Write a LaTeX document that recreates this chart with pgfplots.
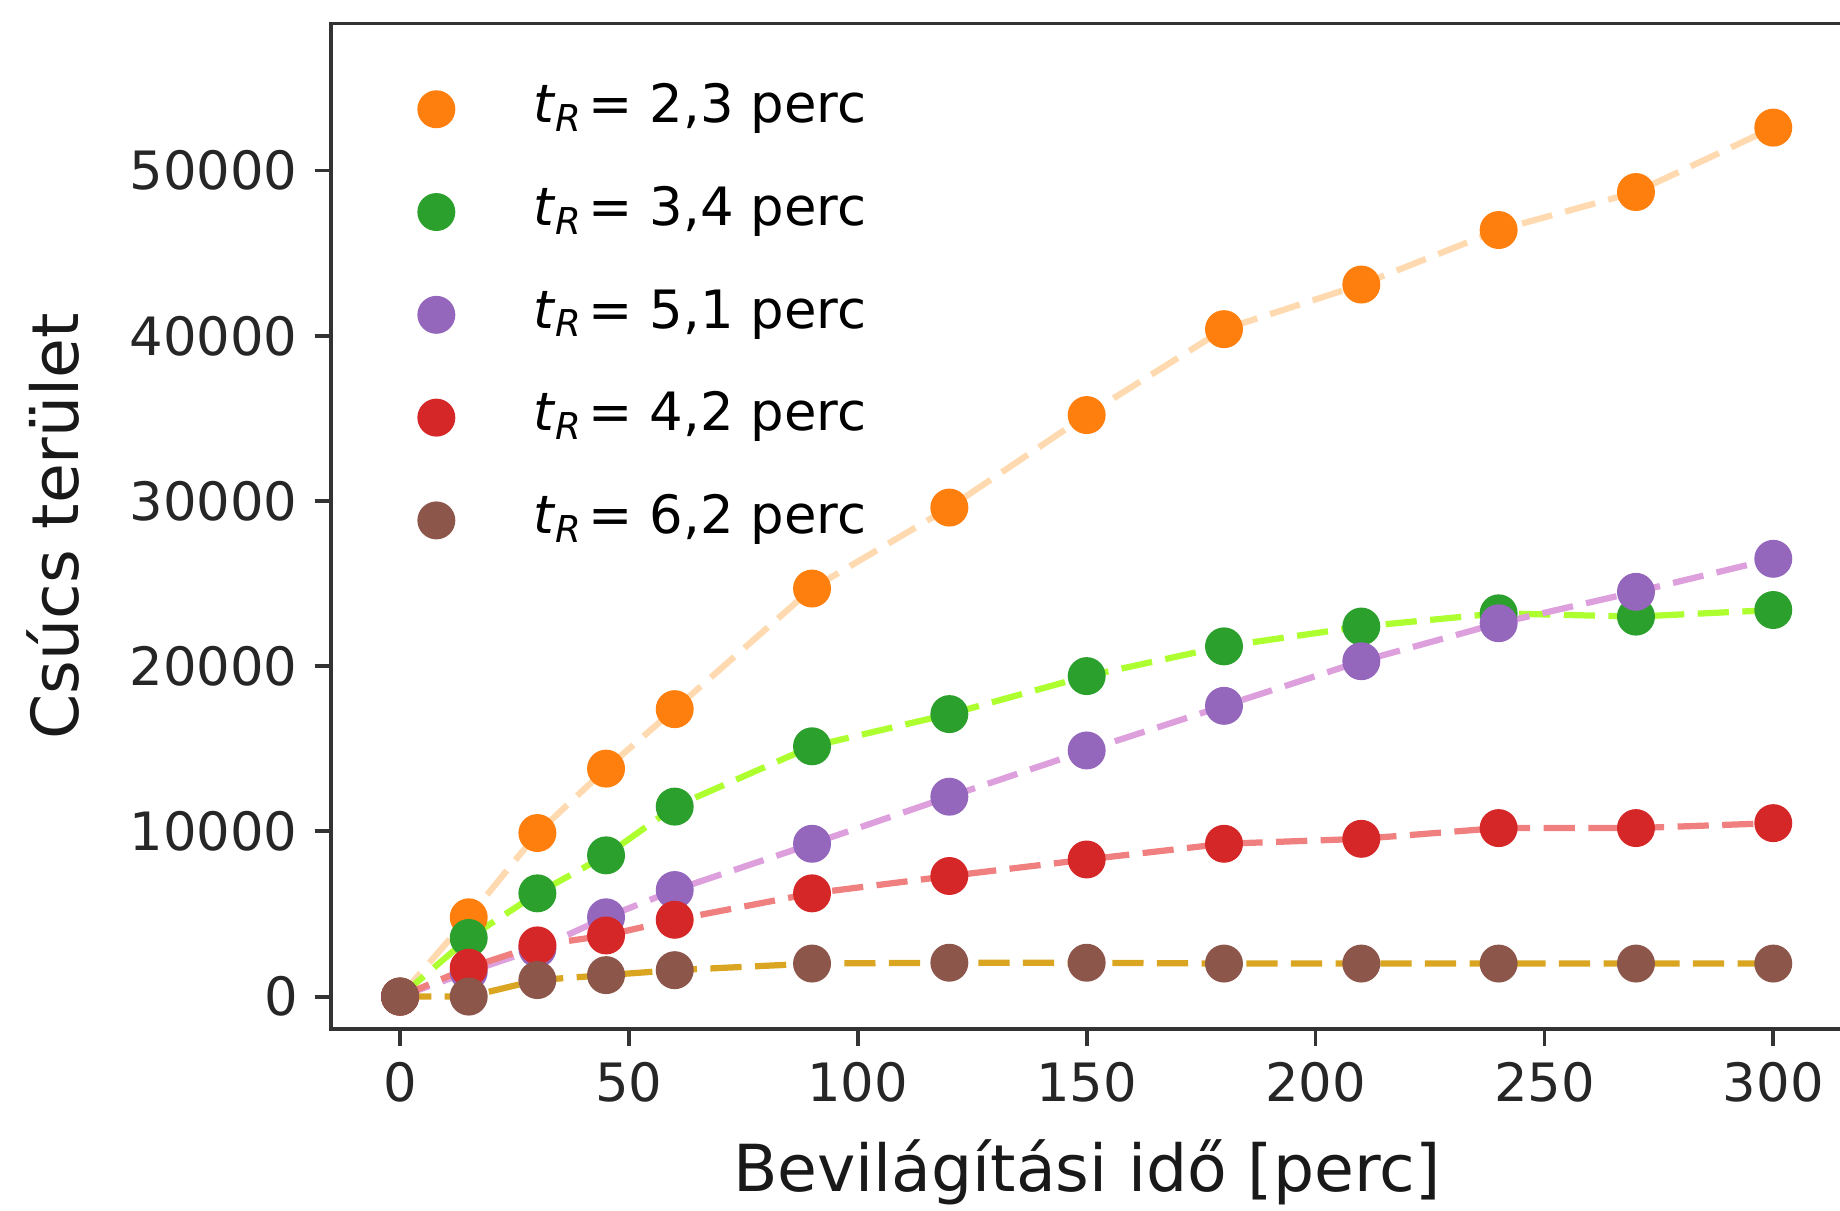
\documentclass[border=0pt]{standalone}
\usepackage{fontspec}
\setmainfont{DejaVu Sans}
\usepackage{pgfplots}
\pgfplotsset{compat=1.18}
\definecolor{tOrange}{HTML}{FF7F0E}
\definecolor{tGreen}{HTML}{2CA02C}
\definecolor{tPurple}{HTML}{9467BD}
\definecolor{tRed}{HTML}{D62728}
\definecolor{tBrown}{HTML}{8C564B}
\definecolor{lOrange}{HTML}{FFDAB0}
\definecolor{lGreen}{HTML}{ADFF2F}
\definecolor{lPurple}{HTML}{DDA0DD}
\definecolor{lRed}{HTML}{F08080}
\definecolor{lBrown}{HTML}{DAA520}
\definecolor{spine}{HTML}{333333}
\newcommand{\tR}{\textit{t}\textsubscript{\textit{R}}\kern1pt}
\begin{document}
\begin{tikzpicture}
\begin{axis}[
  scale only axis, width=314.5pt, height=209.3pt,
  xmin=-15, xmax=315, ymin=-1950, ymax=58900,
  axis line style={draw=spine, line width=0.8pt},
  tick align=outside, xtick pos=bottom, ytick pos=left,
  major tick length=3.5pt, tick style={draw=spine, line width=0.8pt},
  xtick={0,50,...,300}, ytick={0,10000,...,50000},
  scaled y ticks=false,
  /pgf/number format/1000 sep={},
  /pgf/number format/assume math mode=true,
  ticklabel style={font=\fontsize{11}{13}\selectfont, text=black!85},
  xlabel={Bevilágítási idő [perc]},
  ylabel={Csúcs terület},
  label style={font=\fontsize{13.5}{16}\selectfont, text=black!90},
  xlabel style={at={(axis description cs:0.5,-0.1615)}, anchor=base},
  ylabel style={at={(axis description cs:-0.1845,0.5)}, anchor=center},
  legend style={draw=none, fill=none, at={(axis description cs:0,1)}, anchor=north west,
    xshift=17.9pt, yshift=-12.4pt, inner sep=0pt, row sep=10.9pt, column sep=16.5pt,
    font=\fontsize{11}{13}\selectfont,
    nodes={inner sep=0pt, text height=8pt, text depth=2.5pt}},
  legend cell align=left,
]
% orange
\addplot[forget plot, color=lOrange, line width=1.3pt, dash pattern=on 6.5pt off 2.8pt]
  coordinates {(0,0)(15,4800)(30,9900)(45,13800)(60,17400)(90,24700)(120,29600)(150,35200)(180,40400)(210,43100)(240,46400)(270,48700)(300,52600)};
\addplot[only marks, mark=*, mark size=3.75pt, color=tOrange]
  coordinates {(0,0)(15,4800)(30,9900)(45,13800)(60,17400)(90,24700)(120,29600)(150,35200)(180,40400)(210,43100)(240,46400)(270,48700)(300,52600)};
\addlegendentry{\tR= 2,3 perc}
% green
\addplot[forget plot, color=lGreen, line width=1.3pt, dash pattern=on 6.5pt off 2.8pt]
  coordinates {(0,0)(15,3550)(30,6250)(45,8550)(60,11500)(90,15150)(120,17100)(150,19400)(180,21200)(210,22400)(240,23200)(270,23000)(300,23400)};
\addplot[only marks, mark=*, mark size=3.75pt, color=tGreen]
  coordinates {(0,0)(15,3550)(30,6250)(45,8550)(60,11500)(90,15150)(120,17100)(150,19400)(180,21200)(210,22400)(240,23200)(270,23000)(300,23400)};
\addlegendentry{\tR= 3,4 perc}
% purple
\addplot[forget plot, color=lPurple, line width=1.3pt, dash pattern=on 6.5pt off 2.8pt]
  coordinates {(0,0)(15,1500)(30,2900)(45,4800)(60,6450)(90,9250)(120,12100)(150,14900)(180,17600)(210,20300)(240,22600)(270,24500)(300,26500)};
\addplot[only marks, mark=*, mark size=3.75pt, color=tPurple]
  coordinates {(0,0)(15,1500)(30,2900)(45,4800)(60,6450)(90,9250)(120,12100)(150,14900)(180,17600)(210,20300)(240,22600)(270,24500)(300,26500)};
\addlegendentry{\tR= 5,1 perc}
% red
\addplot[forget plot, color=lRed, line width=1.3pt, dash pattern=on 6.5pt off 2.8pt]
  coordinates {(0,0)(15,1750)(30,3100)(45,3700)(60,4650)(90,6250)(120,7300)(150,8300)(180,9250)(210,9550)(240,10200)(270,10200)(300,10500)};
\addplot[only marks, mark=*, mark size=3.75pt, color=tRed]
  coordinates {(0,0)(15,1750)(30,3100)(45,3700)(60,4650)(90,6250)(120,7300)(150,8300)(180,9250)(210,9550)(240,10200)(270,10200)(300,10500)};
\addlegendentry{\tR= 4,2 perc}
% brown
\addplot[forget plot, color=lBrown, line width=1.3pt, dash pattern=on 6.5pt off 2.8pt]
  coordinates {(0,0)(15,0)(30,1000)(45,1300)(60,1600)(90,2000)(120,2050)(150,2050)(180,2000)(210,2000)(240,2000)(270,2000)(300,2000)};
\addplot[only marks, mark=*, mark size=3.75pt, color=tBrown]
  coordinates {(0,0)(15,0)(30,1000)(45,1300)(60,1600)(90,2000)(120,2050)(150,2050)(180,2000)(210,2000)(240,2000)(270,2000)(300,2000)};
\addlegendentry{\tR= 6,2 perc}
\coordinate (bl) at (rel axis cs:0,0);
\coordinate (tr) at (rel axis cs:1,1);
\end{axis}
\pgfresetboundingbox
\path[use as bounding box] ([xshift=-69pt,yshift=-37.9pt]bl) rectangle ([xshift=-0.4pt,yshift=4.9pt]tr);
\end{tikzpicture}
\end{document}
